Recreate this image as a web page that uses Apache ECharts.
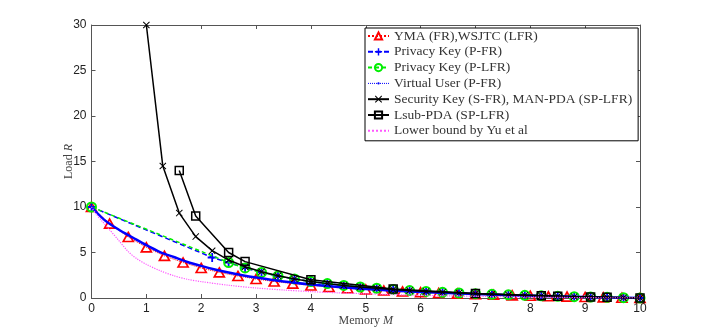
<!DOCTYPE html>
<html>
<head>
<meta charset="utf-8">
<script src="https://cdn.jsdelivr.net/npm/echarts@6/dist/echarts.min.js"></script>
<style>
html,body{margin:0;padding:0;background:#fff;}
#chart{width:706px;height:336px;}
</style>
</head>
<body>
<div id="chart"></div>
<script>
// ---- data ----
const seriesNames = [
  'YMA (FR),WSJTC (LFR)',
  'Privacy Key (P-FR)',
  'Privacy Key (P-LFR)',
  'Virtual User (P-FR)',
  'Security Key (S-FR), MAN-PDA (SP-LFR)',
  'Lsub-PDA (SP-LFR)',
  'Lower bound by Yu et al'
];
const xTicks = [0,1,2,3,4,5,6,7,8,9,10];
const yTicks = [0,5,10,15,20,25,30];

const ymaM = [0,0.33,0.67,1,1.33,1.67,2,2.33,2.67,3,3.33,3.67,4,4.33,4.67,5,5.33,5.67,6,6.33,6.67,7,7.33,7.67,8,8.33,8.67,9,9.33,9.67,10];
const ymaR = [10,8.17,6.71,5.56,4.63,3.9,3.3,2.81,2.42,2.09,1.81,1.58,1.38,1.21,1.07,0.94,0.82,0.72,0.63,0.55,0.48,0.41,0.35,0.29,0.24,0.19,0.15,0.11,0.07,0.03,0];

const pfrM = [0,2.2,2.5,2.8,3.1,3.4,3.7,4.0,4.3,4.6,4.9,5.2,5.5,5.8,6.1,6.4,6.7,7.0,7.3,7.6,7.9,8.2,8.5,8.8,9.1,9.4,9.7,10];
const pfrR = [10,4.45,3.9,3.3,2.81,2.42,2.09,1.81,1.58,1.38,1.21,1.07,0.94,0.82,0.72,0.63,0.55,0.48,0.41,0.35,0.29,0.24,0.19,0.15,0.11,0.07,0.03,0];

const plfrM = [0,2.5,2.8,3.1,3.4,3.7,4.0,4.3,4.6,4.9,5.2,5.5,5.8,6.1,6.4,6.7,7.0,7.3,7.6,7.9,8.2,8.5,8.8,9.1,9.4,9.7,10];
const plfrR = [10,3.9,3.3,2.81,2.42,2.09,1.81,1.58,1.38,1.21,1.07,0.94,0.82,0.72,0.63,0.55,0.48,0.41,0.35,0.29,0.24,0.19,0.15,0.11,0.07,0.03,0];

const vuM = [0,0.25,0.5,0.75,1,1.25,1.5,1.75,2,2.25,2.5,2.75,3,3.5,4,4.5,5,5.5,6,6.5,7,7.5,8,8.5,9,9.5,10];
const vuR = [10,8.5,7.5,6.65,5.8,5.05,4.5,3.96,3.53,3.14,2.8,2.5,2.25,1.82,1.49,1.21,0.99,0.81,0.66,0.54,0.43,0.33,0.25,0.18,0.11,0.05,0];

const skM = [1,1.3,1.6,1.9,2.2,2.5,2.8,3.1,3.4,3.7,4.0,4.3,4.6,4.9,5.2,5.5,5.8,6.1,6.4,6.7,7.0,7.3,7.6,7.9,8.2,8.5,8.8,9.1,9.4,9.7,10];
const skR = [30,14.5,9.33,6.75,5.2,4.17,3.43,2.88,2.44,2.1,1.82,1.58,1.38,1.21,1.07,0.94,0.82,0.72,0.63,0.55,0.48,0.41,0.35,0.29,0.24,0.19,0.15,0.11,0.07,0.03,0];

const lsubM = [1.6,1.9,2.5,2.8,4,5.5,7,8.2,8.5,9.1,9.4,10];
const lsubR = [14,9,5,4,2,1,0.5,0.25,0.2,0.11,0.07,0];

const lbM = [0,0.1,0.2,0.33,0.5,0.67,0.83,1,1.25,1.5,1.75,2,2.5,3,3.5,4,4.5,5,5.5,6,6.5,7,7.5,8,8.5,9,9.5,10];
const lbR = [10,9.1,8.4,7.5,6.3,5.1,4.3,3.7,3.0,2.45,2.05,1.8,1.4,1.1,0.88,0.7,0.57,0.46,0.38,0.3,0.24,0.19,0.14,0.1,0.07,0.04,0.02,0];

// ---- build ----
function pairs(xs, ys){ return xs.map((x,i)=>[x, ys[i]]); }
const PLUS = 'path://M4,0H6V4H10V6H6V10H4V6H0V4H4Z';
const CROSS = 'path://M1,0L5,4L9,0L10,1L6,5L10,9L9,10L5,6L1,10L0,9L4,5L0,1Z';
const DOT = 'path://M0,0L0.01,0L0,0.01ZM10,10L9.99,10L10,9.99ZM5,3.4A1.6,1.6 0 1,1 5,6.6A1.6,1.6 0 1,1 5,3.4Z';
const NOTHING = 'path://M0,0L0.01,0L0,0.01ZM10,10L9.99,10L10,9.99Z';
const axisColor = '#555';
const tickFont = {fontFamily:'Liberation Sans', fontSize:12, color:'#222'};
const nameRich = {rich:{
  a:{fontFamily:'Liberation Serif',fontSize:12,color:'#444'},
  b:{fontFamily:'Liberation Serif',fontSize:12,fontStyle:'italic',color:'#444'}}};

function frameAxis(pos, min, max, interval){
  return {type:'value', min:min, max:max, interval:interval, position:pos,
    axisLine:{show:true,onZero:false,lineStyle:{color:axisColor,width:1}},
    axisTick:{show:true,inside:true,length:4,lineStyle:{color:axisColor}},
    axisLabel:{show:false}, splitLine:{show:false}};
}

const chart = echarts.init(document.getElementById('chart'), null, {renderer:'canvas'});
const option = {
  backgroundColor:'#fff',
  animation:false,
  grid:{left:91.5, right:66, top:25, bottom:38, containLabel:false},
  xAxis:[{
    type:'value', min:0, max:10, interval:1, position:'bottom',
    name:'{a|Memory }{b|M}', nameLocation:'middle', nameGap:17, nameMoveOverlap:false,
    nameTextStyle:nameRich,
    axisLine:{show:true,onZero:false,lineStyle:{color:axisColor,width:1}},
    axisTick:{show:true,inside:true,length:4,lineStyle:{color:axisColor}},
    axisLabel:Object.assign({margin:5, formatter:v=>xTicks.includes(v)?String(v):''}, tickFont),
    splitLine:{show:false}
  }, frameAxis('top',0,10,1)],
  yAxis:[{
    type:'value', min:0, max:30, interval:5, position:'left',
    name:'{a|Load }{b|R}', nameLocation:'middle', nameGap:17, nameRotate:90, nameMoveOverlap:false,
    nameTextStyle:nameRich,
    axisLine:{show:true,onZero:false,lineStyle:{color:axisColor,width:1}},
    axisTick:{show:true,inside:true,length:4,lineStyle:{color:axisColor}},
    axisLabel:Object.assign({margin:5, formatter:v=>yTicks.includes(v)?String(v):''}, tickFont),
    splitLine:{show:false}
  }, frameAxis('right',0,30,5)],
  legend:{
    orient:'vertical', left:365, top:28,
    itemWidth:21, itemHeight:9, itemGap:1.8,
    padding:[1,6,3,2],
    backgroundColor:'#fff', borderColor:'#000', borderWidth:1,
    textStyle:{fontFamily:'Liberation Serif', fontSize:13.5, color:'#333', lineHeight:14},
    data:[
      {name:seriesNames[0]},
      {name:seriesNames[1]},
      {name:seriesNames[2]},
      {name:seriesNames[3], lineStyle:{type:'dotted', width:1, color:'#0000ff'}},
      {name:seriesNames[4]},
      {name:seriesNames[5]},
      {name:seriesNames[6]}
    ],
    z:10
  },
  series:[
    {name:seriesNames[0], type:'line', data:pairs(ymaM,ymaR),
     symbol:'triangle', symbolSize:[10,9],
     lineStyle:{color:'#ff0000', width:1, type:'dotted'},
     itemStyle:{color:'rgba(255,255,255,0)', borderColor:'#ff0000', borderWidth:1.7},
     z:2},
    {name:seriesNames[1], type:'line', data:pairs(pfrM,pfrR),
     symbol:PLUS, symbolSize:9,
     lineStyle:{color:'#0000ff', width:1.5, type:[5,3]},
     itemStyle:{color:'#0000ff'},
     z:3},
    {name:seriesNames[2], type:'line', data:pairs(plfrM,plfrR),
     symbol:'circle', symbolSize:9,
     lineStyle:{color:'#00ee00', width:1.5, type:[4,3]},
     itemStyle:{color:'rgba(255,255,255,0)', borderColor:'#00ee00', borderWidth:2},
     z:4},
    {name:seriesNames[3], type:'line', data:pairs(vuM,vuR), smooth:0.3,
     symbol:DOT, symbolSize:9, showSymbol:false,
     lineStyle:{color:'#0000ff', width:2.5, type:'solid'},
     itemStyle:{color:'#0000ff'},
     z:5},
    {name:seriesNames[4], type:'line', data:pairs(skM,skR),
     symbol:CROSS, symbolSize:7,
     lineStyle:{color:'#000', width:1.5},
     itemStyle:{color:'#000'},
     z:6},
    {name:seriesNames[5], type:'line', data:pairs(lsubM,lsubR),
     symbol:'rect', symbolSize:8,
     lineStyle:{color:'#000', width:1.5},
     itemStyle:{color:'rgba(255,255,255,0)', borderColor:'#000', borderWidth:1.5},
     z:7},
    {name:seriesNames[6], type:'line', data:pairs(lbM,lbR), smooth:0.3,
     symbol:NOTHING, symbolSize:9, showSymbol:false,
     lineStyle:{color:'#ff55ff', width:1.2, type:'dotted'},
     itemStyle:{color:'#ff55ff'},
     z:8}
  ]
};
chart.setOption(option);
</script>
</body>
</html>
